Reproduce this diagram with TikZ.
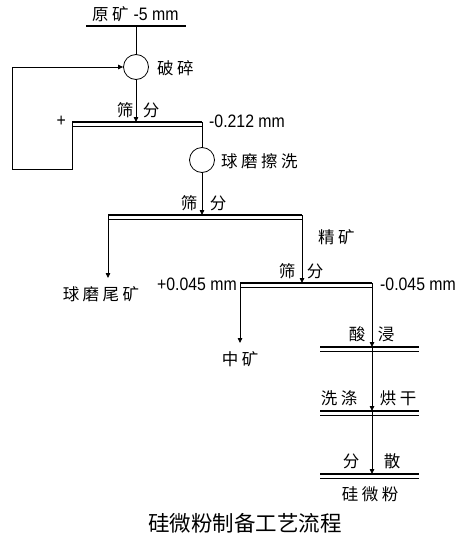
\documentclass[tikz,border=0pt]{standalone}
\usepackage{fontspec}
\setmainfont{Liberation Sans}
\newfontfamily\cjk{Noto Sans CJK SC}
\usetikzlibrary{arrows.meta}
\newcommand{\gp}{\hspace{3.5pt}}
\tikzset{
  x=1pt,y=-1pt,
  lbl/.style={inner sep=0pt,font=\fontsize{16.5}{16.5}\selectfont\cjk},
  num/.style={inner sep=0pt,font=\fontsize{18}{18}\selectfont\addfontfeature{FakeStretch=0.88}},
  flow/.style={line width=0.8pt,-{Triangle[length=5pt,width=4.5pt]}},
  plain/.style={line width=0.8pt},
  mill/.style={circle,draw,line width=0.8pt,minimum size=25pt,inner sep=0pt},
  thick bar/.style={line width=2.8pt},
  thin bar/.style={line width=1.3pt}
}
\newcommand{\screenbar}[4]{% name, x1, x2, y
  \coordinate (#1L) at (#2,#4);
  \coordinate (#1R) at (#3,#4);
  \coordinate (#1Lb) at (#2,#4+4.5);
  \coordinate (#1Rb) at (#3,#4+4.5);
  \draw[thick bar] (#1L) -- (#1R);
  \draw[thin bar] (#1Lb) -- (#1Rb);
}
\begin{document}
\begin{tikzpicture}
\useasboundingbox (0,0) rectangle (473,549);
% top bar
\coordinate (topL) at (86,26);
\coordinate (topR) at (186,26);
\coordinate (topM) at (136,26);
\draw[line width=2.8pt] (topL) -- (topR);
\node[lbl,anchor=base west] (raw) at (92,20) {原\gp 矿\hspace{5pt}{\fontsize{18}{18}\selectfont\fontspec{Liberation Sans}[FakeStretch=0.88]-5 mm}};
% crusher
\node[mill] (crush) at (136,67) {};
\node[lbl,anchor=west] (crushT) at (157,68) {破\gp 碎};
\draw[plain] (topM) -- (crush.north);
% screen 1
\screenbar{sa}{72}{202}{122}
\coordinate (saM) at (136,122);
\draw[flow] (crush.south) -- (saM);
\node[lbl,anchor=base] (saT1) at (125,116) {筛};
\node[lbl,anchor=base] (saT2) at (151,116) {分};
\node[num,anchor=east] (plus1) at (66,121) {+};
\node[num,anchor=west] (m212) at (209,121) {-0.212 mm};
% recycle loop
\coordinate (lpA) at (72,169);
\coordinate (lpB) at (12,169);
\coordinate (lpC) at (12,67);
\draw[plain] (saL) -- (lpA) -- (lpB) -- (lpC);
\draw[flow] (lpC) -- (crush.west);
% ball mill
\node[mill] (ball) at (202,160) {};
\node[lbl,anchor=west] (ballT) at (221,161) {球\gp 磨\gp 擦\gp 洗};
\draw[plain] (saR) -- (ball.north);
% screen 2
\screenbar{sb}{108}{302}{215}
\coordinate (sbM) at (202,215);
\draw[flow] (ball.south) -- (sbM);
\node[lbl,anchor=base] (sbT1) at (189,209) {筛};
\node[lbl,anchor=base] (sbT2) at (218,209) {分};
\coordinate (tailE) at (108,278);
\draw[flow] (sbL) -- (tailE);
\node[lbl] (tail) at (101,294) {球\gp 磨\gp 尾\gp 矿};
\node[lbl,anchor=west] (conc) at (318,237) {精\gp 矿};
% screen 3
\screenbar{sc}{240}{372}{283}
\coordinate (scIn) at (302,283);
\draw[flow] (sbR) -- (scIn);
\node[lbl,anchor=base] (scT1) at (287,277) {筛};
\node[lbl,anchor=base] (scT2) at (315,277) {分};
\node[num,anchor=east] (p045) at (237,284) {+0.045 mm};
\node[num,anchor=west] (m045) at (380,284) {-0.045 mm};
\coordinate (midE) at (240,343);
\draw[flow] (scL) -- (midE);
\node[lbl] (mid) at (240,359) {中\gp 矿};
% acid leaching
\screenbar{sd}{320}{419}{347}
\coordinate (sdM) at (372,347);
\draw[flow] (scR) -- (sdM);
\node[lbl,anchor=base] (sdT1) at (357,340) {酸};
\node[lbl,anchor=base] (sdT2) at (386,340) {浸};
% washing drying
\screenbar{se}{320}{419}{411}
\coordinate (seM) at (372,411);
\draw[flow] (sdM) -- (seM);
\node[lbl,anchor=base] (seT1) at (339,404) {洗\gp 涤};
\node[lbl,anchor=base] (seT2) at (398,404) {烘\gp 干};
% dispersion
\screenbar{sf}{320}{419}{474}
\coordinate (sfM) at (372,474);
\draw[flow] (seM) -- (sfM);
\node[lbl,anchor=base] (sfT1) at (351,467) {分};
\node[lbl,anchor=base] (sfT2) at (392,467) {散};
\node[lbl] (prod) at (370,494) {硅\gp 微\gp 粉};
% caption
\node[inner sep=0pt,font=\fontsize{21.5}{21.5}\selectfont\cjk] (cap) at (245,523) {硅微粉制备工艺流程};
\end{tikzpicture}
\end{document}
